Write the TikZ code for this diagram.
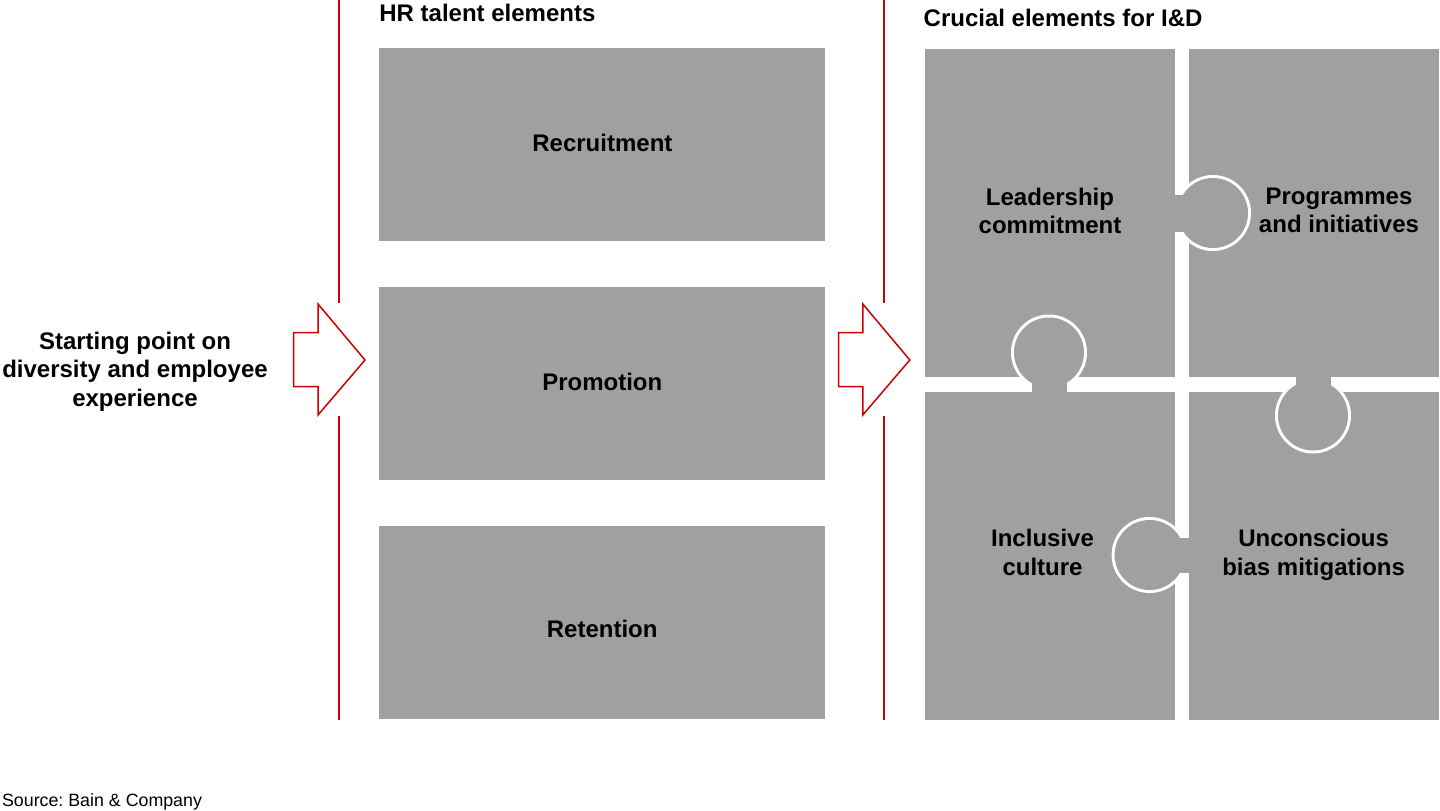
\documentclass[tikz,border=0pt]{standalone}
\usepackage{fontspec}
\setmainfont{Liberation Sans}
\frenchspacing
\usetikzlibrary{positioning}

\definecolor{bainred}{RGB}{204,0,0}
\definecolor{tilegray}{RGB}{160,160,160}

\begin{document}
\begin{tikzpicture}[x=0.5pt, y=-0.5pt, every node/.style={font=\fontsize{12}{14.15}\selectfont\bfseries, inner sep=0pt}, hrbox/.style={fill=tilegray, minimum width=223pt, minimum height=96.5pt}, piece/.style={fill=tilegray, minimum width=125pt, minimum height=164pt}, lbl/.style={align=center}, sepbar/.style={fill=bainred}, blockarr/.style={draw=bainred, fill=white, line width=0.75pt, line join=miter}]
\useasboundingbox (0,0) rectangle (1440,810);
% column separators and block arrows
\foreach \x in {339,884} {\fill[sepbar] (\x-1,0) rectangle (\x+1,303); \fill[sepbar] (\x-1,416) rectangle (\x+1,720);}
\foreach \x in {293.7,838.5} {\draw[blockarr] (\x,332.7) -- (\x+24.3,332.7) -- (\x+24.3,304) -- (\x+71.3,360) -- (\x+24.3,415) -- (\x+24.3,386.7) -- (\x,386.7) -- cycle;}
% starting point
\node[lbl] (start) at (135,371.7) {Starting point on\\diversity and employee\\experience};
% HR talent elements
\node[anchor=base west] (hrhead) at (379,21.7) {HR talent elements};
\node[hrbox] (rec) at (602,144.5) {};
\node[hrbox] (prom) at (602,383.5) {};
\node[hrbox] (ret) at (602,622.5) {};
\node[anchor=base] (rectxt) at (602.4,151.7) {Recruitment};
\node[anchor=base] (promtxt) at (602.3,390) {Promotion};
\node[anchor=base] (rettxt) at (602.2,637.3) {Retention};
% crucial elements, puzzle
\node[anchor=base west] (idhead) at (923.3,26.7) {Crucial elements for I\&D};
\node[piece] (lead) at (1050,213) {};
\node[piece] (prog) at (1313.5,213) {};
\node[piece] (incl) at (1050,555.5) {};
\node[piece] (bias) at (1313.5,555.5) {};
\foreach \cx/\cy/\ax/\ay/\bx/\by in {1213/213/1175/195/1213/231.7, 1049/352.5/1032/352.5/1067.4/392, 1313/415.5/1296/377/1331/415.5, 1149.6/555/1149.6/538/1189/573} {
  \fill[white] (\cx,\cy) circle[radius=19pt];
  \fill[tilegray] (\cx,\cy) circle[radius=17.5pt];
  \fill[tilegray] (\ax,\ay) rectangle (\bx,\by);
}
\node[lbl] (leadtxt) at (1050,210.7) {Leadership\\commitment};
\node[lbl] (progtxt) at (1339,210.7) {Programmes\\and initiatives};
\node[lbl] (incltxt) at (1042.5,552.3) {Inclusive\\culture};
\node[lbl] (biastxt) at (1313.6,554.8) {Unconscious\\bias mitigations};
% source
\node[anchor=base west, font=\fontsize{8.9}{10}\selectfont] (src) at (1.7,806) {Source: Bain \& Company};
\end{tikzpicture}
\end{document}
